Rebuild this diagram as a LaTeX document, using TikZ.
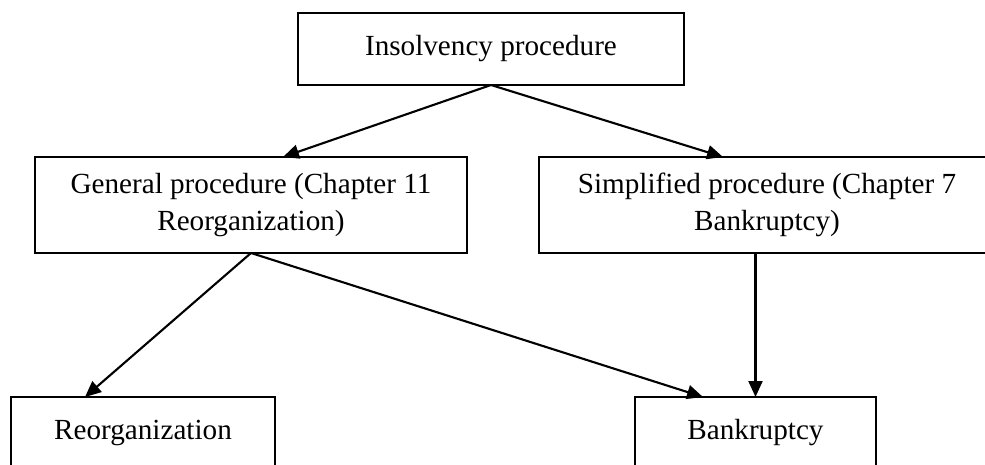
\documentclass[tikz,border=0pt]{standalone}
\usepackage{fontspec}
\setmainfont{Liberation Serif}
\usetikzlibrary{arrows.meta}

\begin{document}
\begin{tikzpicture}[
  x=0.02cm, y=-0.02cm,
  box/.style = {shape=rectangle, draw, line width=1.1pt,
    inner sep=0pt, outer sep=0pt, align=center,
    font=\fontsize{16.6}{21}\selectfont},
  link/.style = {line width=1.2pt, -{Triangle[length=3.2mm,width=2.8mm]}}
  ]
  \useasboundingbox (0,0) rectangle (985,464);
  \clip (0,0) rectangle (985,464);
  % Root
  \node[box, minimum width=7.72cm, minimum height=1.44cm] (insolv) at (491,49)
    {Insolvency procedure};
  % left branch
  \node[box, minimum width=8.64cm, minimum height=1.92cm] (general) at (251,205)
    {General procedure (Chapter 11\\Reorganization)};
  % right branch
  \node[box, minimum width=9.12cm, minimum height=1.92cm] (simple) at (767,205)
    {Simplified procedure (Chapter 7\\Bankruptcy)};
  % outcomes
  \node[box, minimum width=5.28cm, minimum height=1.44cm] (reorg) at (143,433)
    {Reorganization};
  \node[box, minimum width=4.82cm, minimum height=1.44cm] (bankr) at (755.5,433)
    {Bankruptcy};

  \draw[link] (insolv.south) -- ([xshift=0.64cm]general.north);
  \draw[link] (insolv.south) -- ([xshift=-0.88cm]simple.north);
  \draw[link] (general.south) -- ([xshift=-1.16cm]reorg.north);
  \draw[link] (general.south) -- ([xshift=-1.05cm]bankr.north);
  \draw[link] (bankr.north |- simple.south) -- (bankr.north);
\end{tikzpicture}
\end{document}
